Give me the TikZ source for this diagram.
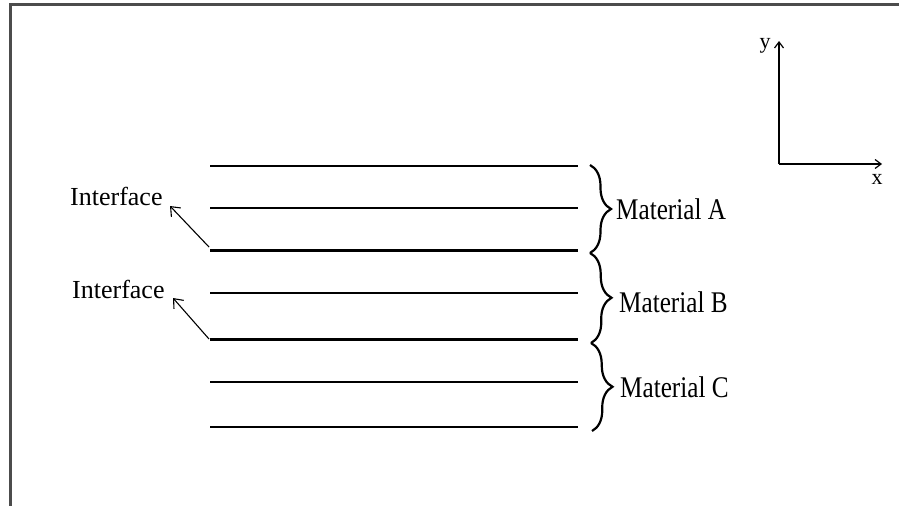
\documentclass[tikz,border=0pt]{standalone}
\usepackage{fontspec}
\setmainfont{Liberation Serif}
\usetikzlibrary{arrows.meta,decorations.pathreplacing}
\newcommand{\matlbl}[1]{\scalebox{0.84}[1]{#1}}
\begin{document}
\begin{tikzpicture}[x=1pt,y=-1pt,
  lbl/.style={inner sep=0pt,anchor=west,font=\fontsize{30}{34}\selectfont},
  ilbl/.style={inner sep=0pt,anchor=west,font=\fontsize{26}{30}\selectfont},
  layer/.style={line width=1.3pt,black},
  iface/.style={line width=3pt,black},
  bracestyle/.style={line width=2.2pt,decorate,decoration={brace,amplitude=21pt,aspect=0.5}},
  pointer/.style={line width=1.1pt,-{Straight Barb[length=8pt,width=13pt,line width=1.1pt]}},
  axis/.style={line width=1.5pt,-{Straight Barb[length=6pt,width=9pt,line width=1.2pt]}}]
\useasboundingbox (0,0) rectangle (899,506);
% frame (only top and left edges visible)
\draw[line width=2.5pt,black!70] (899,4.7) -- (10.7,4.7) -- (10.7,506);
% layer lines
\foreach \n/\y in {1/166,2/208,4/293,6/382,7/427}{
  \coordinate (l\n a) at (210,\y);
  \coordinate (l\n b) at (578,\y);
  \draw[layer] (l\n a) -- (l\n b);
}
\foreach \n/\y in {3/250,5/339}{
  \coordinate (l\n a) at (210,\y);
  \coordinate (l\n b) at (578,\y);
  \draw[iface] (l\n a) -- (l\n b);
}
% braces
\coordinate (bA1) at (590,165);
\coordinate (bA2) at (590,253);
\coordinate (bB2) at (591,343);
\coordinate (bC2) at (592,431);
\draw[bracestyle] (bA1) -- (bA2);
\draw[bracestyle] (bA2) -- (bB2);
\draw[bracestyle] (bB2) -- (bC2);
% material labels
\node[lbl] (matA) at (616,209) {\matlbl{Material A}};
\node[lbl] (matB) at (619,302) {\matlbl{Material B}};
\node[lbl] (matC) at (620,387) {\matlbl{Material C}};
% interface labels and pointers
\node[ilbl] (if1) at (70,196) {Interface};
\node[ilbl] (if2) at (72,289) {Interface};
\coordinate (p1) at (170,206);
\coordinate (p2) at (173,298);
\draw[pointer] (209,247) -- (p1);
\draw[pointer] (209,339) -- (p2);
% axes
\coordinate (o) at (779,164);
\coordinate (ytip) at (779,41);
\coordinate (xtip) at (882,164);
\draw[axis] (o) -- (ytip);
\draw[axis] (o) -- (xtip);
\node[inner sep=0pt,font=\fontsize{22}{26}\selectfont] (ylab) at (765,46) {y};
\node[inner sep=0pt,font=\fontsize{22}{26}\selectfont] (xlab) at (877,179) {x};
\end{tikzpicture}
\end{document}
